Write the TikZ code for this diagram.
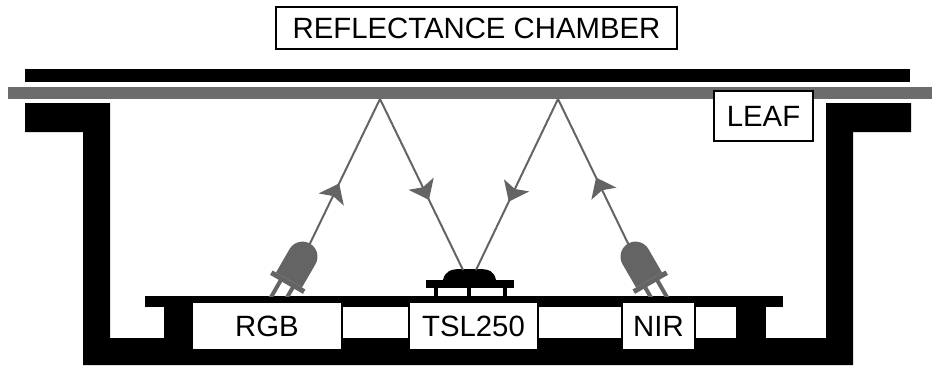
\documentclass[tikz,border=0pt]{standalone}
\usepackage{fontspec}
\setmainfont{Liberation Sans}
\usetikzlibrary{calc}
\definecolor{leafgray}{RGB}{108,108,108}
\definecolor{raygray}{RGB}{100,100,100}
\begin{document}
\begin{tikzpicture}[x=0.75pt,y=-0.75pt,
  label box/.style={draw=black, fill=white, line width=1.4pt, inner sep=0pt,
    font=\fontsize{22}{26}\selectfont},
  ray/.style={draw=raygray, line width=1.5pt},
  dart/.pic={\fill[raygray] (0,0) -- (-18,14) -- (-14,0) -- (-18,-14) -- cycle;},
  ledpart/.style={fill=raygray}
]
\useasboundingbox (0,0) rectangle (932,368);

% lid of the chamber and the leaf lying under it
\fill (25,69) rectangle (910,82);
\fill[leafgray] (8,87) rectangle (932,99);

% chamber walls and floor
\fill (25,103) -- (110,103) -- (110,338) -- (826,338) -- (826,103) -- (911,103)
  -- (911,132) -- (853,132) -- (853,365) -- (83,365) -- (83,132) -- (25,132) -- cycle;

% circuit board on its two posts
\fill (145,296) rectangle (783,307);
\fill (164,307) rectangle (191,338);
\fill (736,307) rectangle (766,338);

% photodiode package
\fill (426,280) rectangle (514,288);
\fill (434,288) rectangle (438,296);
\fill (467,288) rectangle (471,296);
\fill (503,288) rectangle (507,296);
\fill (443,280) .. controls (445,271) and (451,269) .. (462,269) -- (478,269)
  .. controls (489,269) and (494,271) .. (496,280) -- cycle;

% reflection points on the leaf and receiving points on the sensor
\coordinate (a1) at (380,99);
\coordinate (a2) at (558,99);
\coordinate (s1) at (463,270);
\coordinate (s2) at (476,270);

% the two tilted LEDs, legs cut at the board surface
\begin{scope}
  \clip (0,0) rectangle (932,296);
  \begin{scope}[shift={(289,280)}, rotate=-30]
    \fill[ledpart] (-9,4) rectangle (-5,50);
    \fill[ledpart] (5,4) rectangle (9,50);
    \fill[ledpart] (-19,0) rectangle (19,5);
    \fill[ledpart] (-15,0) -- (-15,-27) arc[start angle=180, end angle=360, radius=15] -- (15,0) -- cycle;
    \coordinate (rgbtop) at (0,-41);
  \end{scope}
  \begin{scope}[shift={(649,280)}, rotate=30]
    \fill[ledpart] (-9,4) rectangle (-5,50);
    \fill[ledpart] (5,4) rectangle (9,50);
    \fill[ledpart] (-19,0) rectangle (19,5);
    \fill[ledpart] (-15,0) -- (-15,-27) arc[start angle=180, end angle=360, radius=15] -- (15,0) -- cycle;
    \coordinate (nirtop) at (0,-41);
  \end{scope}
\end{scope}

% light paths with a direction head part way along each
\draw[ray] (rgbtop) -- (a1) pic[pos=0.42, sloped, allow upside down] {dart};
\draw[ray] (a1) -- (s1) pic[pos=0.59, sloped, allow upside down] {dart};
\draw[ray] (a2) -- (s2) pic[pos=0.60, sloped, allow upside down] {dart};
\draw[ray] (nirtop) -- (a2) pic[pos=0.46, sloped, allow upside down] {dart};

% labels
\node[label box, minimum width=112.5pt, minimum height=36pt] (rgb) at (267,326) {RGB};
\node[label box, minimum width=96.75pt, minimum height=36pt] (tsl) at (473.5,326) {TSL250};
\node[label box, minimum width=54.75pt, minimum height=36pt] (nir) at (658.5,326) {NIR};
\node[label box, minimum width=74.25pt, minimum height=37.5pt] (leaf) at (763.5,116) {LEAF};
\node[label box, minimum width=300.75pt, minimum height=31.5pt] (title) at (476.5,28) {REFLECTANCE CHAMBER};
\end{tikzpicture}
\end{document}
